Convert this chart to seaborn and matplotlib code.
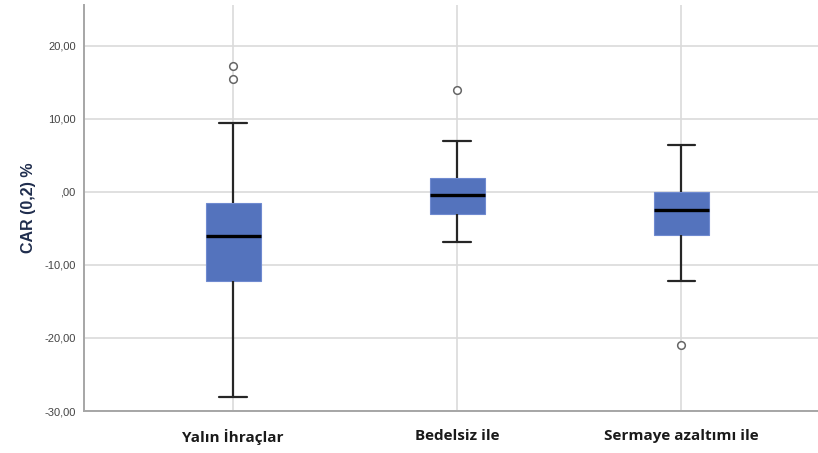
import numpy as np
import pandas as pd
import matplotlib
matplotlib.use("Agg")
import matplotlib.pyplot as plt
import matplotlib.ticker as ticker
import seaborn as sns

# -- data (whiskers, quartiles, median, outliers) -----------------------------
groups = ["Yalın İhraçlar", "Bedelsiz ile", "Sermaye azaltımı ile"]
car_yalin = [-28.1, -12.2, -12.2, -12.2, -6.0, -6.0, -6.0, -1.5, -1.5, -1.5, 9.45, 15.5, 17.3]
car_bedelsiz = [-6.85, -3.0, -3.0, -3.0, -0.4, -0.4, -0.4, 1.9, 1.9, 1.9, 7.0, 7.0, 14.0]
car_sermaye = [-21.0, -12.2, -5.9, -5.9, -2.5, -2.5, -2.5, 0.0, 0.0, 0.0, 6.4, 6.4, 6.4]
y_ticks = [-30, -20, -10, 0, 10, 20]
y_tick_labels = ["-30,00", "-20,00", "-10,00", ",00", "10,00", "20,00"]

df = pd.DataFrame({
    "grup": [groups[0]] * len(car_yalin) + [groups[1]] * len(car_bedelsiz)
            + [groups[2]] * len(car_sermaye),
    "car": car_yalin + car_bedelsiz + car_sermaye,
})

# -- style ---------------------------------------------------------------------
BOX_COLOR = "#5473BD"
GRID_COLOR = "#DADADA"
sns.set_style("white")
plt.rcParams["font.family"] = ["Liberation Sans", "DejaVu Sans"]

fig = plt.figure(figsize=(8.18, 4.53), dpi=100, facecolor="white")
ax = fig.add_axes([0.1027, 0.0927, 0.8973, 0.8963])

sns.boxplot(
    data=df, x="grup", y="car", order=groups, ax=ax,
    color=BOX_COLOR, saturation=1, width=0.245, whis=1.5,
    linewidth=1.6, linecolor="#222222", fliersize=5.5,
    boxprops=dict(edgecolor="#6F8AD0", linewidth=0.8),
    medianprops=dict(color="#000000", linewidth=2.4),
    whiskerprops=dict(color="#262626", linewidth=1.6),
    capprops=dict(color="#262626", linewidth=1.6),
    flierprops=dict(marker="o", markerfacecolor="white",
                    markeredgecolor="#666666", markeredgewidth=1.1),
    zorder=3,
)

ax.set_xlim(-0.665, 2.61)
ax.set_ylim(-30, 25.6)
ax.set_yticks(y_ticks)
ax.yaxis.set_major_formatter(ticker.FixedFormatter(y_tick_labels))

ax.grid(True, axis="both", color=GRID_COLOR, linewidth=1.2, zorder=0)
ax.set_axisbelow(True)

for side in ["top", "right"]:
    ax.spines[side].set_visible(False)
for side in ["left", "bottom"]:
    ax.spines[side].set_color("#A6A6A6")
    ax.spines[side].set_linewidth(1.4)

ax.tick_params(axis="y", length=0, labelsize=8, labelcolor="#444444", pad=6)
ax.tick_params(axis="x", length=0, pad=13)
for lab in ax.get_xticklabels():
    lab.set_fontsize(11)
    lab.set_fontweight("bold")
    lab.set_color("#1A1A1A")
    lab.set_family(["Open Sans", "DejaVu Sans"])

ax.set_xlabel("")
ax.set_ylabel("CAR (0,2) %", fontsize=11.5, fontweight="bold",
              color="#1F2D4D", labelpad=6)

fig.savefig("out.png", dpi=100, facecolor="white")
